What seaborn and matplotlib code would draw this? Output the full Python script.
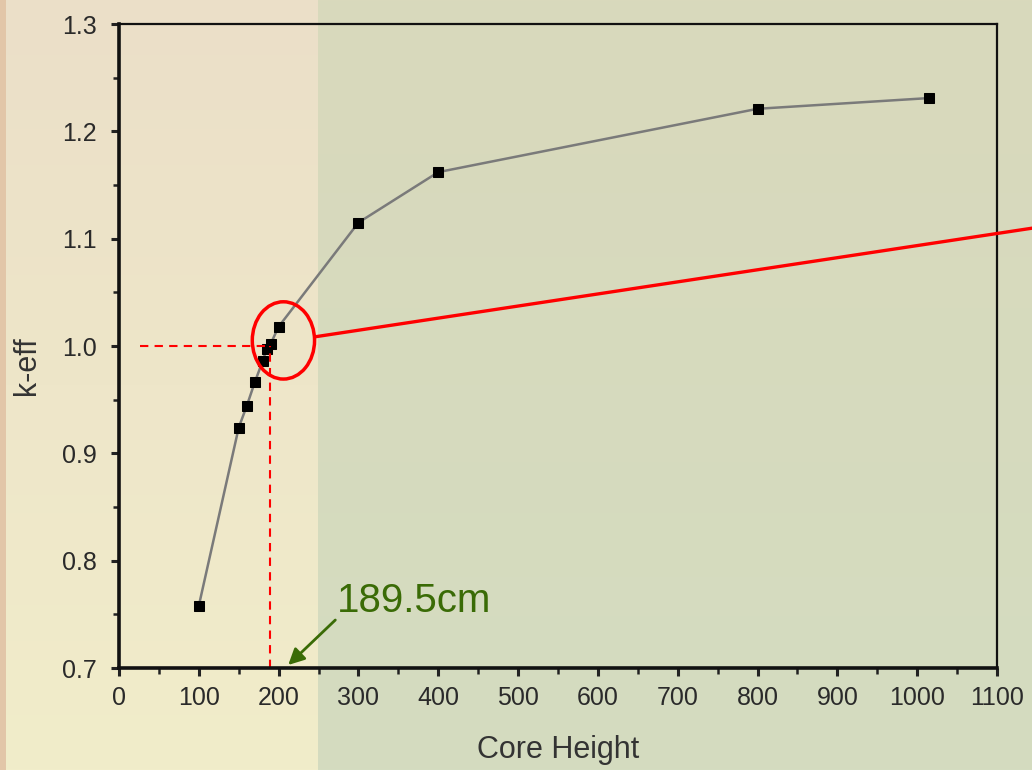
import numpy as np
import matplotlib
matplotlib.use("Agg")
import matplotlib.pyplot as plt
from matplotlib.patches import Ellipse
from matplotlib.ticker import MultipleLocator
import seaborn as sns

# Data
core_height = [100, 150, 160, 170, 180, 185, 190, 200, 300, 400, 800, 1015]
k_eff = [0.758, 0.924, 0.944, 0.966, 0.986, 0.997, 1.002, 1.018, 1.115, 1.162, 1.221, 1.231]
critical_height = 189.5
critical_label = "189.5cm"
x_ticks = list(range(0, 1101, 100))
y_ticks = [0.7, 0.8, 0.9, 1.0, 1.1, 1.2, 1.3]

sns.set_style("ticks")
plt.rcParams['font.family'] = ['Liberation Sans', 'DejaVu Sans']

W, H = 1032, 770
fig = plt.figure(figsize=(W / 100, H / 100), dpi=100)

# slide-like background: cream strip on the left, sage green on the right
def hexrgb(h):
    h = h.lstrip('#')
    return np.array([int(h[i:i + 2], 16) for i in (0, 2, 4)]) / 255.0

t = np.linspace(0, 1, H)[:, None, None]
left = hexrgb('#ebdfc8') * (1 - t) + hexrgb('#f1edca') * t
right = hexrgb('#d9d9bc') * (1 - t) + hexrgb('#d4dcc0') * t
img = np.empty((H, W, 3))
img[:, :318] = left
img[:, 318:] = right
img[:, :6] = hexrgb('#e2c6a8')
bg = fig.add_axes([0, 0, 1, 1], zorder=0)
bg.imshow(img, aspect='auto', extent=[0, 1, 0, 1])
bg.axis('off')

ax = fig.add_axes([119 / W, 1 - 668 / H, (997 - 119) / W, (668 - 24) / H], zorder=1)
ax.set_facecolor('none')

sns.lineplot(x=core_height, y=k_eff, ax=ax, color='#7a7a7a', linewidth=1.8,
             marker='s', markersize=6.5, markerfacecolor='black',
             markeredgecolor='black', sort=False)

ax.set_xlim(0, 1100)
ax.set_ylim(0.7, 1.3)
ax.set_xticks(x_ticks)
ax.set_yticks(y_ticks)
ax.set_yticklabels([f"{v:.1f}" for v in y_ticks])
ax.xaxis.set_minor_locator(MultipleLocator(50))
ax.yaxis.set_minor_locator(MultipleLocator(0.05))

ax.tick_params(which='major', length=6, width=2.2, color='#222222',
               labelsize=18, labelcolor='#2a2a2a', pad=7)
ax.tick_params(which='minor', length=4, width=1.8, color='#222222')
ax.tick_params(axis='y', which='both', pad=10)

for side in ['left', 'bottom']:
    ax.spines[side].set_linewidth(2.6)
    ax.spines[side].set_color('#111111')
for side in ['top', 'right']:
    ax.spines[side].set_visible(True)
    ax.spines[side].set_linewidth(1.6)
    ax.spines[side].set_color('#111111')

ax.set_xlabel("Core Height", fontsize=22, color='#333333')
ax.set_ylabel("k-eff", fontsize=22, color='#333333')
ax.xaxis.label.set_va('center')
ax.yaxis.label.set_va('center')
ax.xaxis.set_label_coords(0.5, -0.127)
ax.yaxis.set_label_coords(-0.105, 0.469)

# critical point guides
ax.plot([26, critical_height], [1.0, 1.0], color='red', linestyle=(0, (4, 3)), linewidth=1.5)
ax.plot([critical_height, critical_height], [0.7, 1.0], color='red', linestyle=(0, (4, 3)), linewidth=1.5)
ax.add_patch(Ellipse((206, 1.0052), 78, 0.072, fill=False, edgecolor='red', linewidth=2.5, zorder=5))
ax.plot([245, 1146], [1.0085, 1.110], color='red', linewidth=2.4, clip_on=False, zorder=5)

ax.text(273.5, 0.7522, critical_label, fontsize=29, color='#3a6b06',
        ha='left', va='baseline')
ax.annotate("", xy=(212, 0.7028), xytext=(271, 0.7447),
            arrowprops=dict(arrowstyle='-|>', color='#3a6b06', lw=2,
                            mutation_scale=24, shrinkA=0, shrinkB=0),
            annotation_clip=False)

fig.savefig("out.png", dpi=100)
